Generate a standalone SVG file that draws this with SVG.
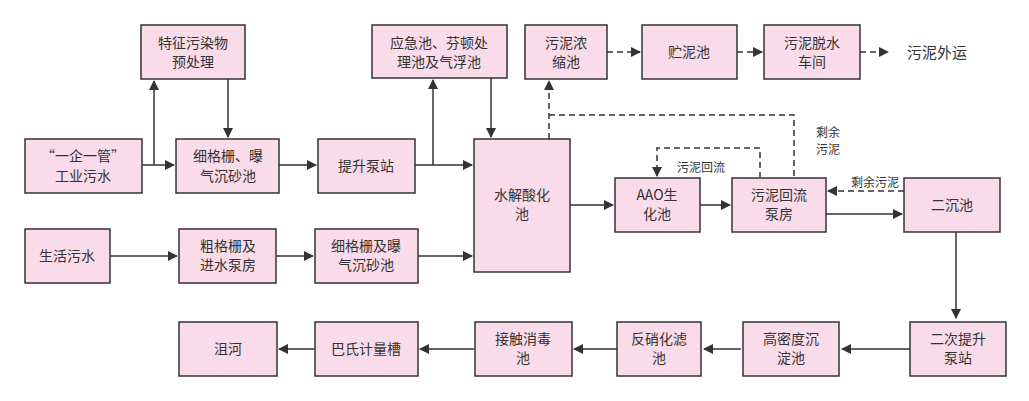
<svg xmlns="http://www.w3.org/2000/svg" width="1029" height="401" viewBox="0 0 1029 401">
<style>
rect{fill:#fadbe9;stroke:#333;stroke-width:1.5}
text{font-family:"Noto Sans CJK SC","Liberation Sans",sans-serif;font-size:14px;fill:#333;text-anchor:middle}
.s{font-size:12px}
.l{fill:none;stroke:#333;stroke-width:1.5}
.d{stroke-dasharray:6,4}
</style>
<defs><marker id="a" markerWidth="10" markerHeight="10" refX="9" refY="5" orient="auto" markerUnits="userSpaceOnUse"><path d="M0,0L10,5L0,10z" fill="#333"/></marker></defs>
<rect width="1029" height="401" style="fill:#fff;stroke:none"/>
<g id="connectors">
<path class="l" d="M142,165H174" marker-end="url(#a)"/>
<path class="l" d="M154,165V81" marker-end="url(#a)"/>
<path class="l" d="M228,79V137" marker-end="url(#a)"/>
<path class="l" d="M279,165H316" marker-end="url(#a)"/>
<path class="l" d="M415,165H472" marker-end="url(#a)"/>
<path class="l" d="M433,165V80" marker-end="url(#a)"/>
<path class="l" d="M491,78V137" marker-end="url(#a)"/>
<path class="l" d="M110,256H177" marker-end="url(#a)"/>
<path class="l" d="M276,256H313" marker-end="url(#a)"/>
<path class="l" d="M418,256H472" marker-end="url(#a)"/>
<path class="l" d="M570,205H613" marker-end="url(#a)"/>
<path class="l" d="M700,205H730" marker-end="url(#a)"/>
<path class="l" d="M826,214H902" marker-end="url(#a)"/>
<path class="l" d="M956,232V318" marker-end="url(#a)"/>
<path class="l" d="M910,349H842" marker-end="url(#a)"/>
<path class="l" d="M741,349H704" marker-end="url(#a)"/>
<path class="l" d="M617,349H574" marker-end="url(#a)"/>
<path class="l" d="M474,349H420" marker-end="url(#a)"/>
<path class="l" d="M315,349H279" marker-end="url(#a)"/>
<path class="l d" d="M549,139V81" marker-end="url(#a)"/>
<path class="l d" d="M549,115H794V178"/>
<path class="l d" d="M607,52H640" marker-end="url(#a)"/>
<path class="l d" d="M737,52H762" marker-end="url(#a)"/>
<path class="l d" d="M860,52H888" marker-end="url(#a)"/>
<path class="l d" d="M760,178V148H657V176" marker-end="url(#a)"/>
<path class="l d" d="M904,191H828" marker-end="url(#a)"/>
<text x="828" y="137" class="s">剩余</text>
<text x="828" y="154" class="s">污泥</text>
<text x="701" y="172" class="s">污泥回流</text>
<text x="875" y="187" class="s">剩余污泥</text>
<text x="937" y="58" style="font-size:15px">污泥外运</text>
</g>
<g id="n1"><rect x="141" y="25" width="104" height="54"/><text x="193" y="48">特征污染物</text><text x="193" y="67">预处理</text></g>
<g id="n2"><rect x="25" y="139" width="117" height="54"/><text x="83" y="161">“一企一管”</text><text x="83" y="181">工业污水</text></g>
<g id="n3"><rect x="176" y="139" width="103" height="54"/><text x="228" y="161">细格栅、曝</text><text x="228" y="181">气沉砂池</text></g>
<g id="n4"><rect x="318" y="139" width="97" height="54"/><text x="366" y="171">提升泵站</text></g>
<g id="n5"><rect x="372" y="25" width="135" height="53"/><text x="439" y="48">应急池、芬顿处</text><text x="439" y="67">理池及气浮池</text></g>
<g id="n6"><rect x="474" y="139" width="96" height="133"/><text x="522" y="200">水解酸化</text><text x="522" y="219">池</text></g>
<g id="n7"><rect x="25" y="229" width="85" height="54"/><text x="67" y="261">生活污水</text></g>
<g id="n8"><rect x="179" y="229" width="97" height="54"/><text x="228" y="251">粗格栅及</text><text x="228" y="270">进水泵房</text></g>
<g id="n9"><rect x="315" y="229" width="103" height="54"/><text x="366" y="251">细格栅及曝</text><text x="366" y="270">气沉砂池</text></g>
<g id="n10"><rect x="525" y="25" width="82" height="54"/><text x="566" y="48">污泥浓</text><text x="566" y="67">缩池</text></g>
<g id="n11"><rect x="642" y="25" width="95" height="54"/><text x="689" y="57">贮泥池</text></g>
<g id="n12"><rect x="764" y="25" width="96" height="54"/><text x="812" y="48">污泥脱水</text><text x="812" y="67">车间</text></g>
<g id="n13"><rect x="615" y="178" width="85" height="54"/><text x="657" y="200">AAO生</text><text x="657" y="219">化池</text></g>
<g id="n14"><rect x="732" y="178" width="94" height="54"/><text x="779" y="200">污泥回流</text><text x="779" y="219">泵房</text></g>
<g id="n15"><rect x="904" y="178" width="96" height="54"/><text x="952" y="210">二沉池</text></g>
<g id="n16"><rect x="910" y="322" width="96" height="54"/><text x="958" y="344">二次提升</text><text x="958" y="363">泵站</text></g>
<g id="n17"><rect x="743" y="322" width="96" height="54"/><text x="791" y="344">高密度沉</text><text x="791" y="363">淀池</text></g>
<g id="n18"><rect x="617" y="322" width="84" height="54"/><text x="659" y="344">反硝化滤</text><text x="659" y="363">池</text></g>
<g id="n19"><rect x="475" y="322" width="97" height="54"/><text x="523" y="344">接触消毒</text><text x="523" y="363">池</text></g>
<g id="n20"><rect x="315" y="322" width="103" height="54"/><text x="366" y="354">巴氏计量槽</text></g>
<g id="n21"><rect x="179" y="322" width="98" height="54"/><text x="228" y="354">沮河</text></g>
</svg>
